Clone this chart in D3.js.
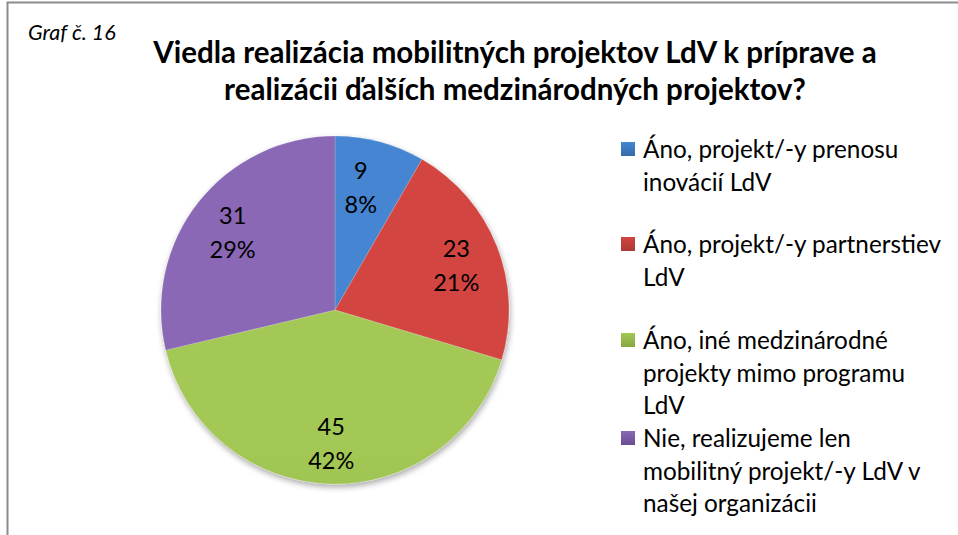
<!DOCTYPE html>
<html><head><meta charset="utf-8">
<script src="https://cdn.jsdelivr.net/npm/d3@7"></script>
<style>body{margin:0;background:#fff}svg{display:block}text{font-family:Lato,"Open Sans",sans-serif}</style>
</head><body><svg id="c" width="958" height="535"></svg>
<script>
const categories = ["Áno, projekt/-y prenosu inovácií LdV","Áno, projekt/-y partnerstiev LdV","Áno, iné medzinárodné projekty mimo programu LdV","Nie, realizujeme len mobilitný projekt/-y LdV v našej organizácii"];
const legendLines = [["Áno, projekt/-y prenosu","inovácií LdV"],["Áno, projekt/-y partnerstiev","LdV"],["Áno, iné medzinárodné","projekty mimo programu","LdV"],["Nie, realizujeme len","mobilitný projekt/-y LdV v","našej organizácii"]];
const values = [9,23,45,31];
const percents = ["8%","21%","42%","29%"];
const colorsTop = ["#4485d2","#d24541","#a3c854","#8a68b5"];
const colorsBot = ["#376ba8","#aa3936","#86a63f","#684d90"];
const titleLines = ["Viedla realizácia mobilitných projektov LdV k príprave a","realizácii ďalších medzinárodných projektov?"];
const caption = "Graf č. 16";

const svg = d3.select("#c");
const defs = svg.append("defs");
const cx=335, cy=310, R=174;
svg.append("path").attr("d","M7.5,535 L7.5,2.5 L958,2.5").attr("fill","none").attr("stroke","#8c8c8c").attr("stroke-width",2);
svg.append("text").attr("x",28).attr("y",40).attr("font-size",21.5).attr("font-style","italic").text(caption);
svg.selectAll(".t").data(titleLines).join("text").attr("x",515).attr("y",(d,i)=>63+i*37)
  .attr("text-anchor","middle").attr("font-size",29.5).attr("font-weight","bold").text(d=>d);

const f = defs.append("filter").attr("id","sh").attr("x","-20%").attr("y","-20%").attr("width","140%").attr("height","140%");
f.append("feGaussianBlur").attr("in","SourceAlpha").attr("stdDeviation",3);
f.append("feOffset").attr("dx",1).attr("dy",3).attr("result","b");
f.append("feComponentTransfer").append("feFuncA").attr("type","linear").attr("slope",0.35);
const m=f.append("feMerge"); m.append("feMergeNode"); m.append("feMergeNode").attr("in","SourceGraphic");

values.forEach((v,i)=>{
  const g=defs.append("linearGradient").attr("id","g"+i).attr("gradientUnits","userSpaceOnUse")
    .attr("x1",0).attr("y1",cy-R).attr("x2",0).attr("y2",cy+R);
  g.append("stop").attr("offset","0").attr("stop-color",colorsTop[i]);
  g.append("stop").attr("offset","1").attr("stop-color",colorsBot[i]);
});
const pie=d3.pie().sort(null).value(d=>d)(values);
const arc=d3.arc().innerRadius(0).outerRadius(R);
const labArc=d3.arc().innerRadius(R*0.75).outerRadius(R*0.75);
const gp=svg.append("g").attr("transform",`translate(${cx},${cy})`);
gp.append("g").attr("filter","url(#sh)").selectAll("path").data(pie).join("path")
  .attr("d",arc).attr("fill",(d,i)=>`url(#g${i})`).attr("stroke","rgba(255,255,255,0.25)").attr("stroke-width",0.7);
const labs=gp.selectAll(".l").data(pie).join("text").attr("font-size",23.5).attr("text-anchor","middle")
  .attr("transform",(d,i)=>{const c=labArc.centroid(d);const dx=i===0?-8:0;return `translate(${c[0]+dx},${c[1]})`;});
labs.append("tspan").attr("x",0).attr("y",-5).text(d=>d.data);
labs.append("tspan").attr("x",0).attr("y",29).text((d,i)=>percents[i]);

const lg=svg.append("g");
const itemY=[149,244,340,438];
legendLines.forEach((lines,i)=>{
  const g=defs.append("linearGradient").attr("id","lg"+i).attr("x1",0).attr("y1",0).attr("x2",0).attr("y2",1);
  g.append("stop").attr("offset","0").attr("stop-color",colorsTop[i]);
  g.append("stop").attr("offset","1").attr("stop-color",colorsBot[i]);
  lg.append("rect").attr("x",621).attr("y",itemY[i]-7).attr("width",14).attr("height",14).attr("fill",`url(#lg${i})`);
  lines.forEach((t,j)=>{
    lg.append("text").attr("x",643).attr("y",itemY[i]+9+j*32.5).attr("font-size",24.3).text(t);
  });
});
</script></body></html>
